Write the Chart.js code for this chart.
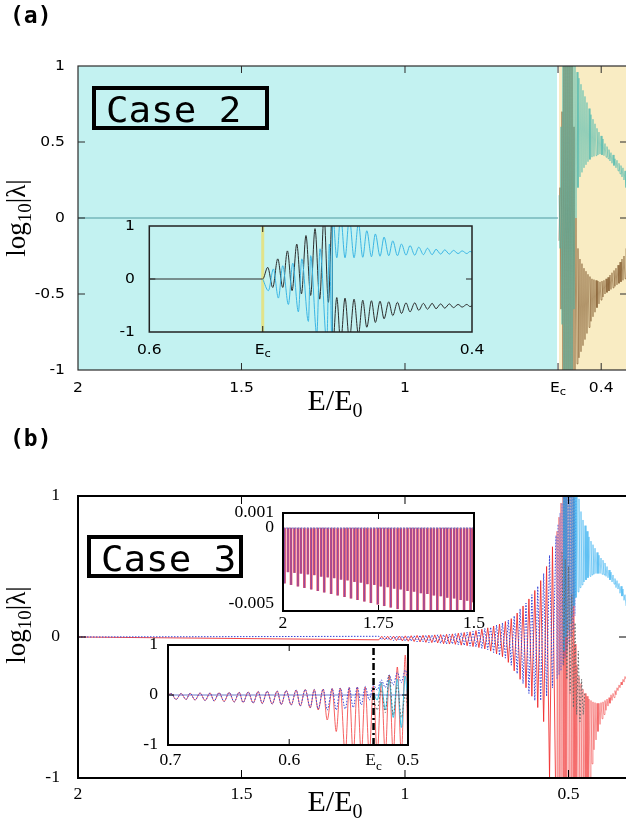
<!DOCTYPE html>
<html>
<head>
<meta charset="utf-8">
<script src="https://cdn.jsdelivr.net/npm/chart.js@4.4.1/dist/chart.umd.min.js"></script>
<style>
  html, body { margin: 0; padding: 0; background: #fff; overflow: hidden; }
  #page { position: relative; width: 626px; height: 829px; overflow: hidden; }
  #page canvas { position: absolute; left: 0; top: 0; }
</style>
</head>
<body>
<div id="page">
  <canvas id="cA" width="640" height="829"></canvas>
  <canvas id="cAin" width="640" height="829"></canvas>
  <canvas id="cB" width="640" height="829"></canvas>
  <canvas id="cB1" width="640" height="829"></canvas>
  <canvas id="cB2" width="640" height="829"></canvas>
</div>
<script>
'use strict';

// ---------- data: panel (a), Case 2 ----------
const EC_A = 0.532;
const aZeroE = [2.0, 0.532];
const aZeroY = [0, 0];
// dense band right of Ec (one value per pixel column)
const aBandE = [0.5291, 0.5260, 0.5230, 0.5199, 0.5169, 0.5138, 0.5108, 0.5077, 0.5046, 0.5016,
  0.4985, 0.4955, 0.4924, 0.4893, 0.4863, 0.4832, 0.4802, 0.4771, 0.4740, 0.4710, 0.4679, 0.4649,
  0.4618, 0.4588, 0.4557, 0.4526, 0.4496, 0.4465, 0.4435, 0.4404, 0.4373, 0.4343, 0.4312, 0.4282,
  0.4251, 0.4221, 0.4190, 0.4159, 0.4129, 0.4098, 0.4068, 0.4037, 0.4006, 0.3976, 0.3945, 0.3915,
  0.3884, 0.3853, 0.3823, 0.3792, 0.3762, 0.3731, 0.3701, 0.3670, 0.3639, 0.3609, 0.3578, 0.3548,
  0.3517, 0.3486, 0.3456, 0.3425, 0.3395, 0.3364, 0.3334, 0.3303, 0.3272, 0.3242];
const aTealY = [0.15, -0.2, 0.6, -0.7, 1.1, -1.2, 1.4, -1.3, 1.4, -1.3, 1.35, -1.3, 1.2, -1.3, 1.08,
  -0.6, 1.0, 0.0, 0.96, 0.2, 0.92, 0.27, 0.88, 0.3, 0.84, 0.33, 0.8, 0.35, 0.76, 0.37, 0.72, 0.385,
  0.68, 0.40, 0.65, 0.405, 0.62, 0.41, 0.59, 0.415, 0.565, 0.42, 0.54, 0.415, 0.52, 0.41, 0.49, 0.40,
  0.47, 0.39, 0.45, 0.375, 0.43, 0.36, 0.415, 0.345, 0.39, 0.33, 0.38, 0.31, 0.36, 0.29, 0.345, 0.27,
  0.33, 0.25, 0.31, 0.2];
const aBrownY = [-0.15, 0.2, -0.6, 0.7, -1.1, 1.2, -1.4, 1.3, -1.4, 1.3, -1.35, 1.3, -1.2, 1.3, -1.08,
  0.6, -1.0, 0.0, -0.96, -0.2, -0.92, -0.27, -0.88, -0.3, -0.84, -0.33, -0.8, -0.35, -0.76, -0.37,
  -0.72, -0.385, -0.68, -0.40, -0.65, -0.405, -0.62, -0.41, -0.59, -0.415, -0.565, -0.42, -0.54,
  -0.415, -0.52, -0.41, -0.5, -0.40, -0.49, -0.39, -0.48, -0.375, -0.47, -0.36, -0.46, -0.345, -0.45,
  -0.33, -0.44, -0.31, -0.43, -0.29, -0.42, -0.27, -0.41, -0.25, -0.40, -0.2];

// inset of (a)
const EC_AIN = 0.5297;
const aInBlackE = [0.6, 0.5297, 0.5266, 0.5235, 0.5204, 0.5173, 0.5144, 0.5115, 0.5086, 0.5057,
  0.5029, 0.5000, 0.4973, 0.4944, 0.4917, 0.4890, 0.4866, 0.4864, 0.4838, 0.4814, 0.4787, 0.4760,
  0.4731, 0.4704, 0.4677, 0.4652, 0.4623, 0.4599, 0.4570, 0.4545, 0.4516, 0.4491, 0.4462, 0.4437,
  0.4409, 0.4384, 0.4355, 0.4330, 0.4301, 0.4276, 0.4247, 0.4223, 0.4194, 0.4169, 0.4140, 0.4115,
  0.4086, 0.4061, 0.4032, 0.4012, 0.3997];
const aInBlackY = [0, 0, 0.22, -0.16, 0.38, -0.16, 0.53, -0.22, 0.66, -0.28, 0.82, -0.31, 0.95, -0.38,
  1.2, -0.44, 1.3, -1.3, -0.35, -1.2, -0.36, -1.15, -0.38, -1.05, -0.40, -0.91, -0.41, -0.82, -0.42,
  -0.75, -0.43, -0.69, -0.44, -0.65, -0.45, -0.62, -0.45, -0.59, -0.46, -0.57, -0.46, -0.56, -0.47,
  -0.55, -0.47, -0.54, -0.48, -0.53, -0.48, -0.52, -0.5];
const aInCyanE = [0.5297, 0.5262, 0.5231, 0.5200, 0.5173, 0.5138, 0.5111, 0.5076, 0.5055, 0.5014,
  0.5000, 0.4962, 0.4942, 0.4900, 0.4884, 0.4867, 0.4865, 0.4838, 0.4814, 0.4787, 0.4760, 0.4731,
  0.4704, 0.4677, 0.4652, 0.4623, 0.4599, 0.4570, 0.4545, 0.4516, 0.4491, 0.4462, 0.4437, 0.4409,
  0.4384, 0.4355, 0.4330, 0.4301, 0.4276, 0.4247, 0.4223, 0.4194, 0.4169, 0.4140, 0.4115, 0.4086,
  0.4061, 0.4032, 0.4012, 0.3997];
const aInCyanY = [0, -0.22, 0.19, -0.36, 0.25, -0.48, 0.3, -0.62, 0.38, -0.8, 0.44, -1.05, 0.57, -1.2,
  0.66, -1.3, 1.3, 0.40, 1.2, 0.40, 1.15, 0.40, 1.05, 0.41, 0.91, 0.42, 0.85, 0.43, 0.79, 0.44, 0.72,
  0.44, 0.66, 0.45, 0.63, 0.45, 0.6, 0.46, 0.58, 0.46, 0.56, 0.47, 0.55, 0.47, 0.54, 0.48, 0.53, 0.48,
  0.52, 0.5];
const ecMarkY = [-1, 1];

// ---------- data: panel (b), Case 3 ----------
// left part: slow ripples (coarse spacing)
const bLeftE = [2.0, 1.080, 1.071, 1.062, 1.053, 1.044, 1.035, 1.026, 1.017, 1.008, 0.999, 0.990,
  0.981, 0.972, 0.963, 0.954, 0.945, 0.936, 0.927, 0.918, 0.909, 0.900, 0.891, 0.882, 0.873, 0.864,
  0.855, 0.846, 0.837, 0.828, 0.819, 0.810, 0.801, 0.792, 0.783, 0.774, 0.765, 0.756, 0.747, 0.738,
  0.729, 0.720, 0.711, 0.702, 0.693, 0.684, 0.675, 0.666, 0.657, 0.648, 0.639, 0.630, 0.621, 0.612,
  0.603, 0.594, 0.585, 0.576, 0.567, 0.558, 0.549];
// right part: dense band (one value per pixel column)
const bRightE = [0.5382, 0.5352, 0.5321, 0.5291, 0.5260, 0.5230, 0.5199, 0.5168, 0.5138, 0.5107,
  0.5077, 0.5046, 0.5015, 0.4985, 0.4954, 0.4924, 0.4893, 0.4862, 0.4832, 0.4801, 0.4771, 0.4740,
  0.4709, 0.4679, 0.4648, 0.4618, 0.4587, 0.4557, 0.4526, 0.4495, 0.4465, 0.4434, 0.4404, 0.4373,
  0.4342, 0.4312, 0.4281, 0.4251, 0.4220, 0.4189, 0.4159, 0.4128, 0.4098, 0.4067, 0.4036, 0.4006,
  0.3975, 0.3945, 0.3914, 0.3884, 0.3853, 0.3822, 0.3792, 0.3761, 0.3731, 0.3700, 0.3669, 0.3639,
  0.3608, 0.3578, 0.3547, 0.3516, 0.3486, 0.3455, 0.3425, 0.3394, 0.3364, 0.3333, 0.3302, 0.3272,
  0.3241];
const bRedLeftY = [0, -0.02, 0.005, -0.02, 0.005, -0.022, 0.006, -0.025, 0.007, -0.028, 0.008, -0.03,
  0.009, -0.032, 0.011, -0.035, 0.012, -0.038, 0.013, -0.04, 0.015, -0.042, 0.017, -0.048, 0.019,
  -0.05, 0.022, -0.052, 0.027, -0.058, 0.032, -0.062, 0.037, -0.068, 0.045, -0.075, 0.055, -0.085,
  0.065, -0.1, 0.078, -0.12, 0.092, -0.14, 0.11, -0.18, 0.13, -0.24, 0.17, -0.3, 0.22, -0.36, 0.27,
  -0.42, 0.33, -0.5, 0.4, -0.6, 0.5, -1.0, 0.64];
const bRedRightY = [-1.3, 0.75, -1.3, 0.85, -1.3, 0.95, -1.3, 1.1, -1.3, 1.25, -1.3, 1.3, -1.3, 1.3,
  -1.3, 1.3, -1.3, 1.0, -1.3, -0.05, -1.3, -0.2, -1.3, -0.28, -1.3, -0.33, -1.3, -0.37, -1.3, -0.4,
  -1.3, -0.42, -1.3, -0.44, -1.0, -0.45, -0.9, -0.46, -0.8, -0.465, -0.73, -0.47, -0.67, -0.47, -0.62,
  -0.465, -0.58, -0.46, -0.55, -0.45, -0.52, -0.44, -0.49, -0.43, -0.47, -0.41, -0.45, -0.4, -0.43,
  -0.38, -0.41, -0.36, -0.38, -0.34, -0.36, -0.32, -0.34, -0.3, -0.32, -0.28, -0.3];
const bBlueLeftY = [0, 0.005, -0.02, 0.005, -0.02, 0.006, -0.025, 0.007, -0.025, 0.008, -0.03, 0.009,
  -0.03, 0.01, -0.035, 0.012, -0.035, 0.013, -0.04, 0.014, -0.04, 0.016, -0.045, 0.018, -0.05, 0.02,
  -0.05, 0.025, -0.055, 0.03, -0.06, 0.035, -0.065, 0.04, -0.07, 0.05, -0.08, 0.06, -0.09, 0.07,
  -0.11, 0.085, -0.13, 0.1, -0.15, 0.12, -0.2, 0.15, -0.26, 0.2, -0.33, 0.24, -0.4, 0.3, -0.45, 0.36,
  -0.45, 0.45, -0.42, 0.58, -0.36];
const bBlueRightY = [0.72, -0.3, 0.8, -0.27, 0.88, -0.24, 0.95, -0.2, 1.1, -0.15, 1.2, -0.1, 1.3,
  -0.05, 1.3, 0.0, 1.3, 0.05, 1.2, 0.15, 1.05];
// light-blue upper branch, from the 8th pixel column of the dense band on
const bCyanY = [1.3, -0.1, 1.3, 0.0, 1.3, 0.05, 1.3, 0.1, 1.3, 0.15, 1.3, 0.22, 1.25, 0.28, 1.1, 0.32,
  0.98, 0.35, 0.89, 0.37, 0.83, 0.39, 0.79, 0.405, 0.75, 0.42, 0.71, 0.43, 0.68, 0.44, 0.655, 0.445,
  0.63, 0.45, 0.6, 0.45, 0.58, 0.45, 0.56, 0.445, 0.545, 0.44, 0.525, 0.43, 0.5, 0.42, 0.475, 0.405,
  0.46, 0.39, 0.44, 0.375, 0.415, 0.35, 0.4, 0.34, 0.38, 0.31, 0.36, 0.29, 0.34, 0.26, 0.3, 0.22];
const bGrayE = [0.52, 0.515, 0.51, 0.505, 0.5, 0.495, 0.49, 0.485, 0.48, 0.475, 0.47, 0.465, 0.46,
  0.455, 0.45];
const bGrayY = [0.6, -0.2, 0.55, -0.3, 0.5, -0.4, 0.3, -0.5, 0.1, -0.55, -0.1, -0.6, -0.3, -0.55, -0.4];

// upper inset of (b): spikes below zero
const b1E = [1.996, 1.987, 1.979, 1.970, 1.961, 1.953, 1.944, 1.935, 1.926, 1.918, 1.909, 1.900,
  1.892, 1.883, 1.874, 1.866, 1.857, 1.848, 1.839, 1.831, 1.822, 1.813, 1.805, 1.796, 1.787, 1.779,
  1.770, 1.761, 1.752, 1.744, 1.735, 1.726, 1.718, 1.709, 1.700, 1.692, 1.683, 1.674, 1.665, 1.657,
  1.648, 1.639, 1.631, 1.622, 1.613, 1.605, 1.596, 1.587, 1.578, 1.570, 1.561, 1.552, 1.544, 1.535,
  1.526, 1.518, 1.509, 1.502];
const b1Depth = [-0.00365, -0.0029, -0.00375, -0.00295, -0.00385, -0.003, -0.00395, -0.00305,
  -0.00405, -0.0031, -0.00415, -0.0032, -0.00425, -0.00325, -0.00435, -0.0033, -0.00445, -0.0034,
  -0.00455, -0.00345, -0.00465, -0.00355, -0.00475, -0.0036, -0.00485, -0.0037, -0.00495, -0.00375,
  -0.00505, -0.00385, -0.00515, -0.0039, -0.00525, -0.004, -0.00535, -0.00405, -0.00545, -0.00415,
  -0.0056, -0.0042, -0.0056, -0.0043, -0.0056, -0.00435, -0.0056, -0.00445, -0.0056, -0.0045,
  -0.0056, -0.0046, -0.0056, -0.00465, -0.0056, -0.00475, -0.0056, -0.0048, -0.0056, -0.0049];
const b1BaseE = [2.0, 1.5];
const b1BaseY = [0, 0];

// lower inset of (b)
const EC_B = 0.529;
const b2E = [0.702, 0.6994, 0.6952, 0.6910, 0.6868, 0.6834, 0.6792, 0.6750, 0.6708, 0.6666, 0.6632,
  0.6590, 0.6548, 0.6505, 0.6463, 0.6421, 0.6388, 0.6345, 0.6303, 0.6261, 0.6227, 0.6185, 0.6143,
  0.6101, 0.6067, 0.6025, 0.5983, 0.5941, 0.5907, 0.5865, 0.5823, 0.5789, 0.5756, 0.5714, 0.5680,
  0.5638, 0.5604, 0.5570, 0.5528, 0.5495, 0.5461, 0.5427, 0.5393, 0.5360, 0.5326, 0.5292, 0.5259,
  0.5225, 0.5191, 0.5158, 0.5124, 0.5090, 0.5056, 0.5023, 0.5000];
const b2RedY = [0, 0.03, -0.09, 0.03, -0.09, 0.035, -0.1, 0.04, -0.11, 0.04, -0.12, 0.045, -0.13,
  0.05, -0.14, 0.055, -0.15, 0.06, -0.16, 0.07, -0.17, 0.075, -0.18, 0.08, -0.19, 0.09, -0.2, 0.1,
  -0.22, 0.11, -0.26, 0.11, -0.3, 0.12, -0.5, 0.13, -0.73, 0.14, -1.2, 0.15, -1.2, 0.16, -1.2, 0.16,
  -1.2, 0.18, -1.2, 0.26, -1.2, 0.4, -1.2, 0.56, -1.2, 0.8, -1.2];
const b2BlueY = [0, 0.03, -0.09, 0.03, -0.09, 0.035, -0.1, 0.04, -0.11, 0.04, -0.12, 0.045, -0.13,
  0.05, -0.14, 0.055, -0.15, 0.06, -0.16, 0.07, -0.17, 0.075, -0.18, 0.08, -0.19, 0.09, -0.2, 0.1,
  -0.22, 0.11, -0.25, 0.11, -0.28, 0.12, -0.3, 0.13, -0.3, 0.14, -0.28, 0.15, -0.25, 0.16, -0.2, 0.17,
  -0.1, 0.2, 0.1, 0.3, 0.15, 0.4, 0.2, 0.45, 0.25, 0.5, 0.3];
const b2TailE = [0.5292, 0.5259, 0.5225, 0.5191, 0.5158, 0.5124, 0.5090, 0.5056, 0.5023, 0.5000];
const b2CyanY = [0.05, -0.1, 0.25, -0.3, 0.3, -0.45, 0.32, -0.65, 0.38, -0.2];
const b2GrayY = [-0.05, -0.3, 0.1, -0.35, 0.4, -0.4, 0.2, -0.45, 0.0, -0.3];
const b2ZeroE = [0.702, 0.5];
const b2ZeroY = [0, 0];

// tick labels
const aXTickV = [2, 1.5, 1, EC_A, 0.4];
const aXTickT = ['2', '1.5', '1', 'E_c', '0.4'];
const aYTickV = [1, 0.5, 0, -0.5, -1];
const aYTickT = ['1', '0.5', '0', '-0.5', '-1'];
const aInXTickV = [0.6, EC_AIN, 0.4];
const aInXTickT = ['0.6', 'E_c', '0.4'];
const aInYTickV = [1, 0, -1];
const aInYTickT = ['1', '0', '-1'];
const bXTickV = [2, 1.5, 1, 0.5];
const bXTickT = ['2', '1.5', '1', '0.5'];
const bYTickV = [1, 0, -1];
const bYTickT = ['1', '0', '-1'];
const b1XTickV = [2, 1.75, 1.5];
const b1XTickT = ['2', '1.75', '1.5'];
const b1YTickV = [0.001, 0, -0.005];
const b1YTickT = ['0.001', '0', '-0.005'];
const b2XTickV = [0.7, 0.6, EC_B, 0.5];
const b2XTickT = ['0.7', '0.6', 'E_c', '0.5'];
const b2YTickV = [1, 0, -1];
const b2YTickT = ['1', '0', '-1'];

// ---------- drawing helpers ----------
const W = 640, H = 829;
const CYAN_BG = '#c3f2f1';
const BEIGE_BG = '#f9ecc3';
const SANS = { size: 13.5, family: '"DejaVu Sans"', sx: 1.15 };
const SERIF = { size: 16, family: '"Liberation Serif"', sx: 1.1 };

const pts = (xs, ys) => ys.map((y, i) => ({ x: xs[i], y }));

function label(ctx, text, x, y, f, align) {
  const [main, sub] = text.split('_');
  const big = `${f.size}px ${f.family}`;
  const small = `${Math.round(f.size * 0.72)}px ${f.family}`;
  ctx.save();
  ctx.translate(x, y);
  ctx.scale(f.sx || 1, 1);
  ctx.textBaseline = 'middle';
  ctx.textAlign = 'left';
  ctx.fillStyle = '#000';
  ctx.font = big;
  const w1 = ctx.measureText(main).width;
  let w2 = 0;
  if (sub) { ctx.font = small; w2 = ctx.measureText(sub).width; }
  const x0 = align === 'center' ? -(w1 + w2) / 2 : align === 'right' ? -(w1 + w2) : 0;
  ctx.font = big;
  ctx.fillText(main, x0, 0);
  if (sub) { ctx.font = small; ctx.fillText(sub, x0 + w1, f.size * 0.35); }
  ctx.restore();
}

function xTitle(ctx, cx, base) {
  const big = '30px "Liberation Serif"', small = '20px "Liberation Serif"';
  ctx.save();
  ctx.fillStyle = '#000';
  ctx.textBaseline = 'alphabetic';
  ctx.font = big;
  const w1 = ctx.measureText('E/E').width;
  ctx.font = small;
  const w2 = ctx.measureText('0').width;
  const x0 = cx - (w1 + w2) / 2;
  ctx.font = big; ctx.fillText('E/E', x0, base);
  ctx.font = small; ctx.fillText('0', x0 + w1, base + 7);
  ctx.restore();
}

function yTitle(ctx, bx, cy) {
  const big = '27px "Liberation Serif"', small = '19px "Liberation Serif"';
  ctx.save();
  ctx.translate(bx, cy);
  ctx.rotate(-Math.PI / 2);
  ctx.fillStyle = '#000';
  ctx.textBaseline = 'alphabetic';
  ctx.font = big;
  const w1 = ctx.measureText('log').width, w3 = ctx.measureText('|λ|').width;
  ctx.font = small;
  const w2 = ctx.measureText('10').width;
  const x0 = -(w1 + w2 + w3) / 2;
  ctx.font = big; ctx.fillText('log', x0, 0);
  ctx.font = small; ctx.fillText('10', x0 + w1, 6);
  ctx.font = big; ctx.fillText('|λ|', x0 + w1 + w2, 0);
  ctx.restore();
}

function caseBox(ctx, text, x, y, w, h, base) {
  ctx.save();
  ctx.lineWidth = 4;
  ctx.strokeStyle = '#000';
  ctx.strokeRect(x, y, w, h);
  ctx.translate(x + 12, base);
  ctx.scale(1.07, 1);
  ctx.font = '35px "DejaVu Sans Mono"';
  ctx.fillStyle = '#000';
  ctx.textBaseline = 'alphabetic';
  ctx.fillText(text, 0, 0);
  ctx.restore();
}

function panelTag(ctx, text, x, y) {
  ctx.save();
  ctx.font = 'bold 23px "DejaVu Sans Mono"';
  ctx.fillStyle = '#000';
  ctx.textBaseline = 'middle';
  ctx.fillText(text, x, y);
  ctx.restore();
}

// background, frame, inward ticks and tick labels of one plot
function framePlugin(f) {
  return {
    id: 'frame',
    beforeDatasetsDraw(chart) {
      const { ctx, chartArea: a, scales: { x } } = chart;
      ctx.save();
      if (f.split) {
        const xs = x.getPixelForValue(f.split);
        ctx.fillStyle = CYAN_BG;
        ctx.fillRect(a.left, a.top, xs - a.left, a.bottom - a.top);
        ctx.fillStyle = BEIGE_BG;
        ctx.fillRect(xs, a.top, a.right - xs, a.bottom - a.top);
        ctx.fillStyle = '#fff';
        ctx.fillRect(xs - 1, a.top, 2, a.bottom - a.top);
      } else {
        ctx.fillStyle = f.bg;
        ctx.fillRect(a.left, a.top, a.right - a.left, a.bottom - a.top);
      }
      ctx.restore();
    },
    afterDatasetsDraw(chart) {
      const { ctx, chartArea: a, scales: { x, y } } = chart;
      ctx.save();
      ctx.strokeStyle = f.color;
      ctx.lineWidth = f.lw;
      ctx.strokeRect(a.left, a.top, a.right - a.left, a.bottom - a.top);
      ctx.lineWidth = 1;
      ctx.beginPath();
      f.xTicks.forEach(v => {
        const px = x.getPixelForValue(v);
        ctx.moveTo(px, a.top); ctx.lineTo(px, a.top + f.tl);
        ctx.moveTo(px, a.bottom); ctx.lineTo(px, a.bottom - f.tl);
      });
      f.yTicks.forEach(v => {
        const py = y.getPixelForValue(v);
        ctx.moveTo(a.left, py); ctx.lineTo(a.left + f.tl, py);
        ctx.moveTo(a.right, py); ctx.lineTo(a.right - f.tl, py);
      });
      ctx.stroke();
      ctx.restore();
      f.xv.forEach((v, i) => label(ctx, f.xt[i], x.getPixelForValue(v), f.xLabelY, f.font, 'center'));
      f.yv.forEach((v, i) => label(ctx, f.yt[i], f.yLabelX, y.getPixelForValue(v), f.font, 'right'));
      if (f.extra) f.extra(ctx);
    }
  };
}

function makeChart(id, box, xr, yr, datasets, frame) {
  return new Chart(document.getElementById(id), {
    type: 'scatter',
    data: { datasets },
    options: {
      responsive: false,
      animation: false,
      devicePixelRatio: 1,
      events: [],
      layout: { padding: { left: box.l, top: box.t, right: W - box.r, bottom: H - box.b } },
      plugins: { legend: { display: false }, tooltip: { enabled: false } },
      scales: {
        x: { type: 'linear', display: false, reverse: true, min: xr[0], max: xr[1], bounds: 'data', offset: false },
        y: { type: 'linear', display: false, min: yr[0], max: yr[1], bounds: 'data' }
      }
    },
    plugins: [framePlugin(frame)]
  });
}

function line(xs, ys, color, extra) {
  return Object.assign({
    data: pts(xs, ys),
    showLine: true,
    borderColor: color,
    borderWidth: 1,
    pointRadius: 0,
    tension: 0
  }, extra || {});
}

// ---------- panel (a) ----------
makeChart('cA', { l: 78, t: 66, r: 627, b: 370 }, [0.3211, 2], [-1, 1], [
  line(aBandE, aTealY, '#2fb0ac', { borderWidth: 0.5 }),
  line(aBandE, aBrownY, '#6a3f12', { borderWidth: 0.5 }),
  line(aZeroE, aZeroY, '#4f9aa0')
], {
  split: EC_A, color: '#2b2b2b', lw: 1.2, tl: 7,
  xTicks: [1.5, 1, EC_A, 0.4], yTicks: [0.5, 0, -0.5],
  xv: aXTickV, xt: aXTickT, yv: aYTickV, yt: aYTickT,
  xLabelY: 388, yLabelX: 65, font: SANS,
  extra(ctx) {
    panelTag(ctx, '(a)', 10, 17);
    caseBox(ctx, 'Case 2', 94, 88, 173, 40, 122);
    xTitle(ctx, 335, 410);
    yTitle(ctx, 25, 218);
  }
});

makeChart('cAin', { l: 149.3, t: 226, r: 472, b: 332 }, [0.4, 0.6], [-1, 1], [
  line(aInCyanE, aInCyanY, '#3bb6e4', { cubicInterpolationMode: 'monotone' }),
  line(aInBlackE, aInBlackY, '#2d2d2d', { cubicInterpolationMode: 'monotone' }),
  line([EC_AIN, EC_AIN], ecMarkY, '#e2e38a', { borderWidth: 3 })
], {
  bg: CYAN_BG, color: '#222', lw: 1.5, tl: 6,
  xTicks: [EC_AIN], yTicks: [0],
  xv: aInXTickV, xt: aInXTickT, yv: aInYTickV, yt: aInYTickT,
  xLabelY: 350, yLabelX: 135, font: SANS
});

// ---------- panel (b) ----------
const thinRight = { borderWidth: c => (c.p0.parsed.x < 0.545 ? 0.55 : 1) };
makeChart('cB', { l: 78, t: 496, r: 627, b: 778 }, [0.3211, 2], [-1, 1], [
  line(bGrayE, bGrayY, '#666', { borderDash: [1.5, 2] }),
  line(bRightE.slice(bRightE.length - bCyanY.length), bCyanY, '#22a9ef', { borderWidth: 0.5 }),
  line(bLeftE.concat(bRightE), bBlueLeftY.concat(bBlueRightY), '#3444d8', { borderDash: [1.5, 1.5], segment: thinRight }),
  line(bLeftE.concat(bRightE), bRedLeftY.concat(bRedRightY), 'rgba(240,40,40,0.85)', { segment: thinRight })
], {
  bg: '#fff', color: '#000', lw: 2, tl: 8,
  xTicks: [1.5, 1, 0.5], yTicks: [0],
  xv: bXTickV, xt: bXTickT, yv: bYTickV, yt: bYTickT,
  xLabelY: 795, yLabelX: 60, font: SERIF,
  extra(ctx) {
    panelTag(ctx, '(b)', 10, 440);
    caseBox(ctx, 'Case 3', 89, 537, 152, 39, 571);
    xTitle(ctx, 335, 811);
    yTitle(ctx, 25, 625);
  }
});

makeChart('cB1', { l: 283, t: 513, r: 474, b: 611 }, [1.5, 2], [-0.0055, 0.001], [
  line(b1BaseE, b1BaseY, '#5a8fe0', { borderDash: [1.5, 1.5] }),
  { type: 'bar', data: pts(b1E, b1Depth), backgroundColor: 'rgba(70,70,220,0.55)', grouped: false, maxBarThickness: 0.8, barPercentage: 1, categoryPercentage: 1 },
  { type: 'bar', data: pts(b1E, b1Depth), backgroundColor: 'rgba(240,50,60,0.85)', grouped: false, maxBarThickness: 2, barPercentage: 1, categoryPercentage: 1 }
], {
  bg: '#fff', color: '#000', lw: 2, tl: 6,
  xTicks: [1.75], yTicks: [],
  xv: b1XTickV, xt: b1XTickT, yv: b1YTickV, yt: b1YTickT,
  xLabelY: 624, yLabelX: 274, font: SERIF
});

makeChart('cB2', { l: 168, t: 645, r: 408, b: 745 }, [0.5, 0.702], [-1, 1], [
  line([EC_B, EC_B], ecMarkY, '#000', { borderWidth: 2.5, borderDash: [7, 3, 2, 3] }),
  line(b2TailE, b2GrayY, '#666', { borderDash: [1.5, 2], cubicInterpolationMode: 'monotone' }),
  line(b2E, b2BlueY, '#3a48d8', { borderDash: [1.5, 1.5], cubicInterpolationMode: 'monotone' }),
  line(b2TailE, b2CyanY, '#2fc4ea', { cubicInterpolationMode: 'monotone' }),
  line(b2E, b2RedY, 'rgba(245,70,70,0.85)', { cubicInterpolationMode: 'monotone' }),
  line(b2ZeroE, b2ZeroY, '#6b78c8')
], {
  bg: '#fff', color: '#000', lw: 2, tl: 6,
  xTicks: [0.6], yTicks: [0],
  xv: b2XTickV, xt: b2XTickT, yv: b2YTickV, yt: b2YTickT,
  xLabelY: 761, yLabelX: 158, font: SERIF
});
</script>
</body>
</html>
